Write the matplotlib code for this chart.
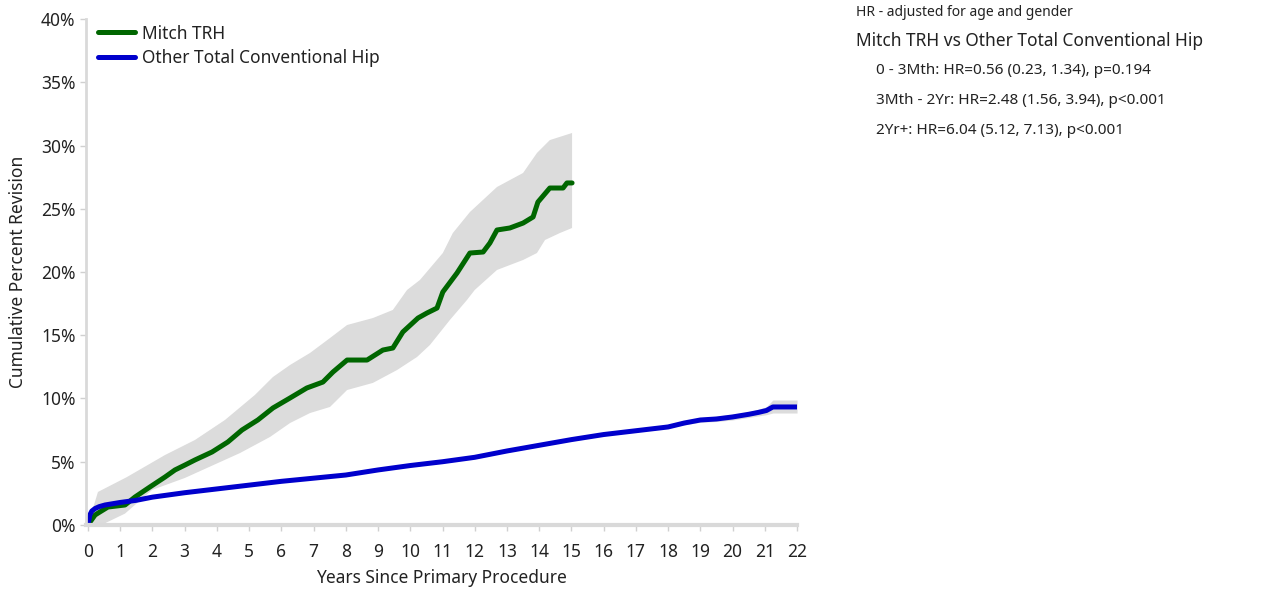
import matplotlib.pyplot as plt

# Mitch TRH (years, cumulative percent revision)
green_x = [0.0, 0.22, 0.37, 0.62, 1.15, 1.46, 1.92, 2.39, 2.70, 3.01, 3.32, 3.85, 4.34, 4.78,
           5.27, 5.74, 6.27, 6.79, 7.29, 7.60, 8.04, 8.66, 9.15, 9.46, 9.77, 10.24, 10.52,
           10.83, 11.01, 11.45, 11.85, 12.26, 12.47, 12.69, 13.09, 13.50, 13.81, 13.96,
           14.33, 14.74, 14.86, 15.02]
green_y = [0.0, 0.79, 1.03, 1.42, 1.58, 2.21, 3.00, 3.79, 4.35, 4.74, 5.14, 5.77, 6.56, 7.51,
           8.30, 9.25, 10.04, 10.83, 11.30, 12.09, 13.04, 13.04, 13.83, 13.99, 15.26, 16.36,
           16.76, 17.15, 18.42, 19.92, 21.50, 21.58, 22.29, 23.32, 23.48, 23.87, 24.35, 25.53,
           26.64, 26.64, 27.04, 27.04]

green_hi_x = [0.0, 0.31, 1.21, 2.39, 3.32, 4.25, 5.18, 5.74, 6.27, 6.89, 7.51, 8.04, 8.84,
              9.46, 9.90, 10.30, 11.01, 11.32, 11.85, 12.69, 13.50, 13.93, 14.33, 15.02]
green_hi_y = [0.0, 2.61, 3.79, 5.53, 6.72, 8.30, 10.28, 11.70, 12.65, 13.60, 14.78, 15.81,
              16.36, 17.00, 18.58, 19.37, 21.50, 23.08, 24.74, 26.72, 27.83, 29.41, 30.43, 30.99]

green_lo_x = [0.0, 0.5, 1.15, 1.99, 3.01, 4.72, 5.65, 6.27, 6.89, 7.51, 8.04, 8.84, 9.59,
              10.21, 10.61, 11.23, 11.76, 12.0, 12.69, 13.50, 13.93, 14.18, 14.64, 15.02]
green_lo_y = [0.0, 0.1, 0.9, 2.77, 3.72, 5.69, 6.96, 8.06, 8.85, 9.33, 10.67, 11.23, 12.25,
              13.28, 14.23, 16.21, 17.79, 18.58, 20.16, 20.95, 21.50, 22.53, 23.08, 23.48]

# Other Total Conventional Hip
blue_x = [0, 0.03, 0.06, 0.12, 0.22, 0.35, 0.53, 1.0, 1.5, 2, 3, 4, 5, 6, 7, 8, 9, 10, 11,
          12, 13, 14, 15, 16, 17, 18, 18.5, 19, 19.5, 20, 20.5, 20.8, 21.05, 21.25, 22]
blue_y = [0, 0.4, 0.8, 1.1, 1.3, 1.45, 1.58, 1.78, 1.95, 2.2, 2.55, 2.85, 3.15, 3.45, 3.7,
          3.95, 4.35, 4.7, 5.0, 5.35, 5.85, 6.3, 6.75, 7.15, 7.45, 7.75, 8.06, 8.3, 8.38,
          8.54, 8.75, 8.9, 9.05, 9.33, 9.33]
blue_hi = [0, 0.45, 0.85, 1.15, 1.35, 1.5, 1.63, 1.83, 2.0, 2.25, 2.6, 2.9, 3.2, 3.5, 3.75,
           4.0, 4.4, 4.8, 5.1, 5.45, 5.95, 6.4, 6.85, 7.25, 7.55, 7.85, 8.2, 8.45, 8.6, 8.75,
           8.95, 9.15, 9.35, 9.88, 9.88]
blue_lo = [0, 0.35, 0.75, 1.05, 1.25, 1.4, 1.53, 1.73, 1.9, 2.15, 2.5, 2.8, 3.1, 3.4, 3.65,
           3.9, 4.3, 4.6, 4.9, 5.25, 5.75, 6.2, 6.65, 7.05, 7.35, 7.65, 7.92, 8.12, 8.18, 8.3,
           8.5, 8.62, 8.72, 8.85, 8.85]

x_ticks = list(range(0, 23))
y_ticks = [0, 5, 10, 15, 20, 25, 30, 35, 40]

hr_lines = ["0 - 3Mth: HR=0.56 (0.23, 1.34), p=0.194",
            "3Mth - 2Yr: HR=2.48 (1.56, 3.94), p<0.001",
            "2Yr+: HR=6.04 (5.12, 7.13), p<0.001"]

plt.rcParams['font.family'] = ['Noto Sans', 'DejaVu Sans']
GREEN = '#006600'
BLUE = '#0000cc'
BAND = '#dcdcdc'
TXT = '#222222'

fig = plt.figure(figsize=(12.8, 5.89), dpi=100)
ax = fig.add_axes([0.0672, 0.1087, 0.5555, 0.859])

# confidence bands as closed polygons (upper edge out, lower edge back)
ax.fill(green_hi_x + green_lo_x[::-1], green_hi_y + green_lo_y[::-1], color=BAND, lw=0)
ax.fill_between(blue_x, blue_lo, blue_hi, color=BAND, lw=0)

ax.plot(green_x, green_y, color=GREEN, lw=3.6,
        solid_joinstyle='round', solid_capstyle='round', label='Mitch TRH')
ax.plot(blue_x, blue_y, color=BLUE, lw=3.6, solid_capstyle='round',
        label='Other Total Conventional Hip')

ax.set_xlim(-0.06, 22)
ax.set_ylim(0, 40)
ax.set_xticks(x_ticks)
ax.set_xticklabels([str(t) for t in x_ticks])
ax.set_yticks(y_ticks)
ax.set_yticklabels([f'{t}%' for t in y_ticks])
ax.tick_params(axis='both', labelsize=12.5, colors='#d0d0d0', labelcolor=TXT, length=4, width=1)
ax.tick_params(axis='x', pad=9)

for s in ['top', 'right']:
    ax.spines[s].set_visible(False)
ax.spines['left'].set_color('#d9d9d9')
ax.spines['left'].set_linewidth(2)
ax.spines['bottom'].set_color('#d9d9d9')
ax.spines['bottom'].set_linewidth(3)

ax.set_xlabel('Years Since Primary Procedure', fontsize=12.5, color=TXT, labelpad=6)
ax.set_ylabel('Cumulative Percent Revision', fontsize=12.5, color=TXT, labelpad=10)

ax.legend(loc='upper left', bbox_to_anchor=(-0.005, 1.02), frameon=False, fontsize=12.5,
          handlelength=2.1, handletextpad=0.45, labelspacing=0.38, labelcolor=TXT)

fig.text(856 / 1280, 1 - 12 / 589, 'HR - adjusted for age and gender', fontsize=10,
         color=TXT, va='center')
fig.text(856 / 1280, 1 - 41 / 589, 'Mitch TRH vs Other Total Conventional Hip', fontsize=12.5,
         color=TXT, va='center')
for i, line in enumerate(hr_lines):
    fig.text(876 / 1280, 1 - (71 + 29.5 * i) / 589, line, fontsize=11, color=TXT, va='center')

fig.savefig('out.png', dpi=100)
